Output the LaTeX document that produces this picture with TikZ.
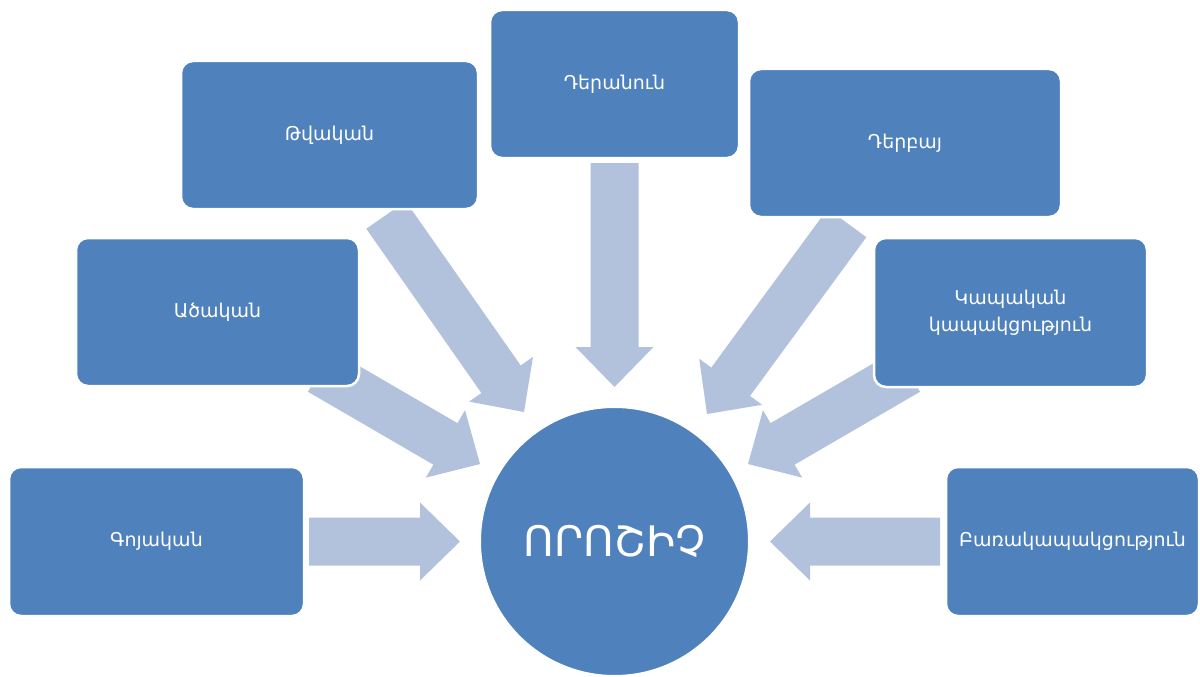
\documentclass[tikz,border=0pt]{standalone}
\usepackage{fontspec}
\setmainfont{DejaVu Sans}
\usetikzlibrary{calc}

\definecolor{boxblue}{HTML}{4F81BD}
\definecolor{arrowblue}{HTML}{B3C2DC}

\tikzset{
  wordbox/.style={rectangle, rounded corners=12pt, fill=boxblue, draw=white,
    line width=2.5pt, text=white, align=center, font=\fontsize{19}{27}\selectfont,
    inner sep=0pt},
  hub/.style={circle, fill=boxblue, draw=white, line width=2pt, text=white,
    inner sep=0pt, minimum size=269pt, font=\fontsize{42}{50}\selectfont},
  arrowfill/.style={fill=arrowblue}
}

% block arrow from #1 (middle of the tail) to #2 (tip)
\newcommand\radialarrow[2]{%
  \coordinate (hb) at ($(#2)!40pt!(#1)$);
  \fill[arrowfill] ($(#1)!24pt!90:(#2)$) -- ($(hb)!24pt!90:(#2)$)
    -- ($(hb)!39pt!90:(#2)$) -- (#2) -- ($(hb)!39pt!-90:(#2)$)
    -- ($(hb)!24pt!-90:(#2)$) -- ($(#1)!24pt!-90:(#2)$) -- cycle;}

\begin{document}
\begin{tikzpicture}[x=1pt, y=-1pt]
  \fill[white] (0,0) rectangle (1200,677);
  \useasboundingbox (0,0) rectangle (1200,677);

  % arrow ends
  \coordinate (t1) at (309,541.5);  \coordinate (p1) at (460,541.5);
  \coordinate (t2) at (320,371);    \coordinate (p2) at (480,464);
  \coordinate (t3) at (386,215);    \coordinate (p3) at (524,412);
  \coordinate (t4) at (614.5,163);  \coordinate (p4) at (614.5,387);
  \coordinate (t5) at (847,223);    \coordinate (p5) at (707,414);
  \coordinate (t6) at (908,371);    \coordinate (p6) at (748,464);
  \coordinate (t7) at (940,541.5);  \coordinate (p7) at (770,541.5);

  \radialarrow{t1}{p1}
  \radialarrow{t2}{p2}
  \radialarrow{t3}{p3}
  \radialarrow{t4}{p4}
  \radialarrow{t5}{p5}
  \radialarrow{t6}{p6}
  \radialarrow{t7}{p7}

  % word boxes
  \node[wordbox, minimum width=295pt, minimum height=149pt] (noun) at (156.5,541.5) {Գոյական};
  \node[wordbox, minimum width=283pt, minimum height=148pt] (adj) at (217.5,312) {Ածական};
  \node[wordbox, minimum width=297pt, minimum height=148pt] (num) at (329.5,135) {Թվական};
  \node[wordbox, minimum width=249pt, minimum height=148pt] (pron) at (614.5,84) {Դերանուն};
  \node[wordbox, minimum width=312pt, minimum height=148pt] (part) at (905,143) {Դերբայ};
  \node[wordbox, minimum width=273pt, minimum height=149pt] (prep) at (1010.5,312.5) {Կապական\\կապակցություն};
  \node[wordbox, minimum width=253pt, minimum height=149pt] (phrase) at (1072.5,541.5) {Բառակապակցություն};

  % centre
  \node[hub] (attr) at (614.5,541.5) {ՈՐՈՇԻՉ};
\end{tikzpicture}
\end{document}
